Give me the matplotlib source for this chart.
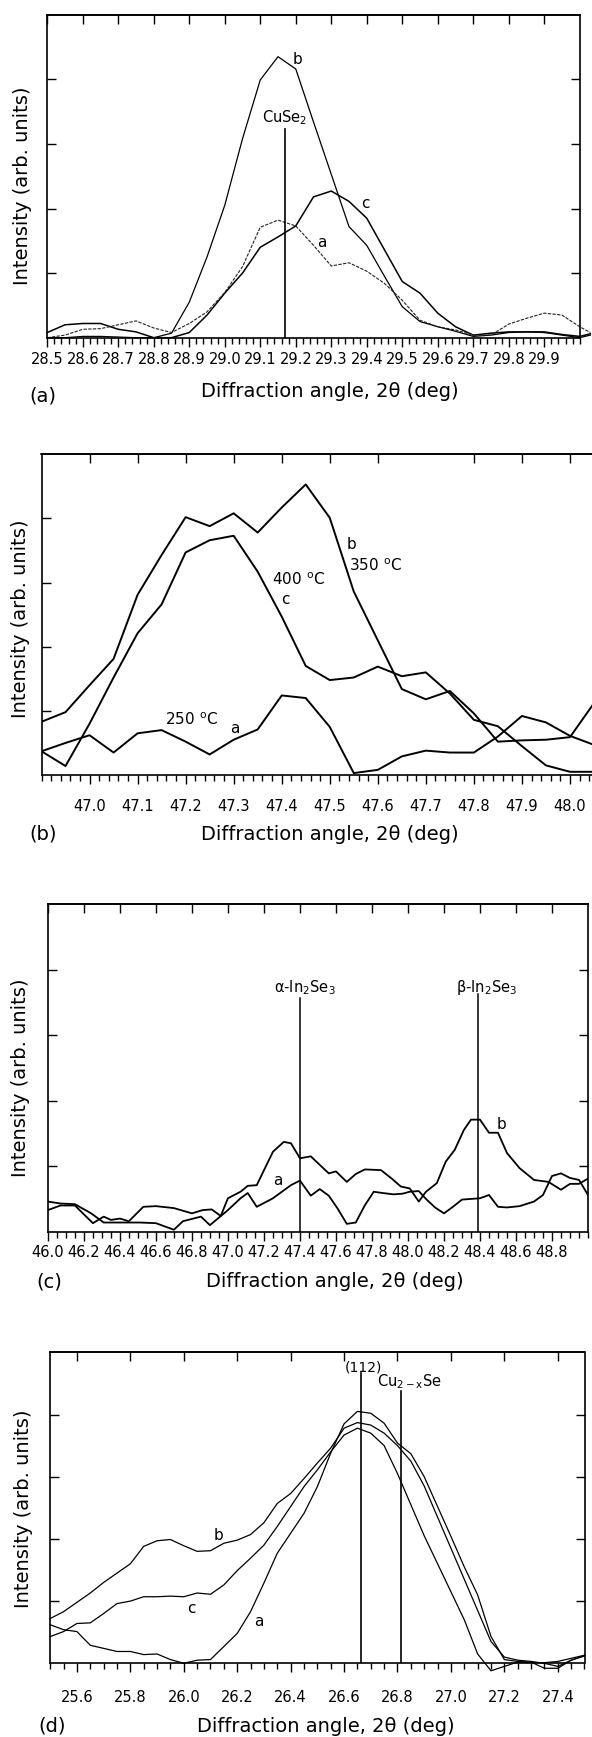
import matplotlib
matplotlib.use("Agg")
import matplotlib.pyplot as plt
from matplotlib.ticker import MultipleLocator, FixedLocator, NullFormatter

plt.rcParams['font.family'] = ['DejaVu Sans']
plt.rcParams['mathtext.fontset'] = 'dejavusans'

# ---------------- Panel (a) data ----------------
PA_X = [28.50, 28.55, 28.60, 28.65, 28.70, 28.75, 28.80, 28.85, 28.90, 28.95,
        29.00, 29.05, 29.10, 29.15, 29.20, 29.25, 29.30, 29.35, 29.40, 29.45,
        29.50, 29.55, 29.60, 29.65, 29.70, 29.75, 29.80, 29.85, 29.90, 29.95,
        30.00, 30.03]
PA_A = [0.00, 0.04, 0.13, 0.14, 0.20, 0.26, 0.15, 0.08, 0.22, 0.40,
        0.70, 1.10, 1.71, 1.82, 1.73, 1.43, 1.11, 1.16, 1.03, 0.84,
        0.58, 0.27, 0.17, 0.12, 0.04, 0.04, 0.21, 0.30, 0.38, 0.35,
        0.17, 0.08]
PA_B = [0.00, 0.00, 0.02, 0.02, 0.01, 0.00, 0.00, 0.07, 0.55, 1.25,
        2.05, 3.08, 3.99, 4.35, 4.16, 3.34, 2.53, 1.72, 1.43, 0.95,
        0.48, 0.25, 0.17, 0.10, 0.02, 0.04, 0.08, 0.09, 0.08, 0.04,
        0.00, 0.04]
PA_C = [0.08, 0.20, 0.22, 0.22, 0.13, 0.09, 0.00, 0.00, 0.08, 0.35,
        0.69, 1.00, 1.40, 1.56, 1.73, 2.18, 2.27, 2.11, 1.85, 1.36,
        0.87, 0.69, 0.38, 0.17, 0.04, 0.07, 0.09, 0.09, 0.09, 0.05,
        0.02, 0.06]
PA_TICKS = [28.5, 28.6, 28.7, 28.8, 28.9, 29.0, 29.1, 29.2, 29.3, 29.4,
            29.5, 29.6, 29.7, 29.8, 29.9]
PA_LABELS = ['28.5', '28.6', '28.7', '28.8', '28.9', '29.0', '29.1', '29.2',
             '29.3', '29.4', '29.5', '29.6', '29.7', '29.8', '29.9']
PA_CUSE2 = 29.17

# ---------------- Panel (b) data ----------------
PB_X = [46.90, 46.95, 47.00, 47.05, 47.10, 47.15, 47.20, 47.25, 47.30, 47.35,
        47.40, 47.45, 47.50, 47.55, 47.60, 47.65, 47.70, 47.75, 47.80, 47.85,
        47.90, 47.95, 48.00, 48.05]
PB_A = [0.37, 0.50, 0.62, 0.35, 0.65, 0.70, 0.52, 0.32, 0.55, 0.71,
        1.24, 1.20, 0.75, 0.03, 0.08, 0.29, 0.38, 0.35, 0.35, 0.60,
        0.92, 0.82, 0.61, 0.47]
PB_B = [0.83, 0.98, 1.40, 1.81, 2.81, 3.43, 4.02, 3.88, 4.08, 3.78,
        4.17, 4.53, 4.01, 2.86, 2.10, 1.34, 1.18, 1.31, 0.96, 0.52,
        0.54, 0.55, 0.59, 1.12]
PB_C = [0.37, 0.14, 0.80, 1.52, 2.21, 2.66, 3.47, 3.66, 3.73, 3.17,
        2.47, 1.70, 1.48, 1.52, 1.69, 1.54, 1.60, 1.27, 0.86, 0.76,
        0.45, 0.15, 0.05, 0.05]
PB_TICKS = [47.0, 47.1, 47.2, 47.3, 47.4, 47.5, 47.6, 47.7, 47.8, 47.9, 48.0]
PB_LABELS = ['47.0', '47.1', '47.2', '47.3', '47.4', '47.5', '47.6', '47.7',
             '47.8', '47.9', '48.0']
PB_TOP_TICKS = [47.0, 47.1, 47.2, 47.3, 47.4, 47.5, 47.6, 47.8, 47.9, 48.0]

# ---------------- Panel (c) data ----------------
PC_AX = [46.00, 46.07, 46.15, 46.24, 46.31, 46.40, 46.51, 46.60, 46.70, 46.75,
         46.85, 46.90, 47.00, 47.07, 47.11, 47.16, 47.25, 47.35, 47.40, 47.46,
         47.51, 47.56, 47.61, 47.66, 47.71, 47.76, 47.81, 47.86, 47.92, 47.97,
         48.01, 48.06, 48.10, 48.15, 48.20, 48.25, 48.30, 48.35, 48.40, 48.45,
         48.50, 48.55, 48.62, 48.70, 48.75, 48.80, 48.85, 48.90, 48.95, 49.00]
PC_A = [0.46, 0.43, 0.42, 0.28, 0.14, 0.14, 0.14, 0.13, 0.03, 0.16,
        0.23, 0.10, 0.33, 0.51, 0.59, 0.38, 0.51, 0.71, 0.78, 0.55,
        0.65, 0.55, 0.35, 0.12, 0.14, 0.40, 0.61, 0.59, 0.57, 0.58,
        0.61, 0.62, 0.50, 0.37, 0.28, 0.38, 0.49, 0.50, 0.51, 0.56,
        0.38, 0.37, 0.39, 0.46, 0.56, 0.85, 0.89, 0.82, 0.79, 0.56]
PC_BX = [46.00, 46.07, 46.15, 46.25, 46.31, 46.35, 46.40, 46.45, 46.53, 46.60,
         46.70, 46.80, 46.86, 46.91, 46.96, 47.00, 47.07, 47.11, 47.16, 47.25,
         47.31, 47.35, 47.40, 47.46, 47.56, 47.60, 47.66, 47.71, 47.76, 47.85,
         47.91, 47.96, 48.01, 48.06, 48.10, 48.16, 48.21, 48.26, 48.31, 48.35,
         48.40, 48.45, 48.50, 48.55, 48.62, 48.70, 48.78, 48.85, 48.90, 48.95,
         49.00]
PC_B = [0.33, 0.40, 0.40, 0.13, 0.23, 0.18, 0.20, 0.16, 0.38, 0.39,
        0.36, 0.28, 0.33, 0.34, 0.24, 0.51, 0.61, 0.70, 0.71, 1.22,
        1.37, 1.35, 1.12, 1.15, 0.89, 0.92, 0.76, 0.88, 0.95, 0.94,
        0.81, 0.69, 0.66, 0.46, 0.61, 0.74, 1.07, 1.25, 1.55, 1.71,
        1.71, 1.51, 1.51, 1.20, 0.97, 0.79, 0.76, 0.64, 0.73, 0.73,
        0.81]
PC_TICKS = [46.0, 46.2, 46.4, 46.6, 46.8, 47.0, 47.2, 47.4, 47.6, 47.8,
            48.0, 48.2, 48.4, 48.6, 48.8]
PC_LABELS = ['46.0', '46.2', '46.4', '46.6', '46.8', '47.0', '47.2', '47.4',
             '47.6', '47.8', '48.0', '48.2', '48.4', '48.6', '48.8']
PC_ALPHA = 47.40
PC_BETA = 48.39

# ---------------- Panel (d) data ----------------
PD_X = [25.50, 25.55, 25.60, 25.65, 25.70, 25.75, 25.80, 25.85, 25.90, 25.95,
        26.00, 26.05, 26.10, 26.15, 26.20, 26.25, 26.30, 26.35, 26.40, 26.45,
        26.50, 26.55, 26.60, 26.65, 26.70, 26.75, 26.80, 26.85, 26.90, 26.95,
        27.00, 27.05, 27.10, 27.15, 27.20, 27.25, 27.30, 27.35, 27.40, 27.45,
        27.50]
PD_A = [0.62, 0.54, 0.51, 0.29, 0.24, 0.19, 0.19, 0.14, 0.15, 0.06,
        0.00, 0.05, 0.06, 0.27, 0.48, 0.83, 1.29, 1.77, 2.09, 2.41,
        2.84, 3.38, 3.85, 4.05, 4.02, 3.86, 3.54, 3.37, 3.00, 2.52,
        2.04, 1.55, 1.10, 0.43, 0.06, 0.03, 0.01, 0.01, 0.03, 0.08,
        0.13]
PD_B = [0.72, 0.83, 0.98, 1.13, 1.30, 1.45, 1.60, 1.88, 1.97, 1.99,
        1.89, 1.80, 1.81, 1.93, 1.98, 2.07, 2.26, 2.57, 2.73, 2.97,
        3.22, 3.46, 3.78, 3.87, 3.83, 3.70, 3.50, 3.25, 2.85, 2.35,
        1.85, 1.35, 0.85, 0.35, 0.10, 0.05, 0.03, 0.00, -0.05, 0.05,
        0.12]
PD_C = [0.43, 0.51, 0.64, 0.65, 0.80, 0.96, 1.00, 1.07, 1.07, 1.08,
        1.07, 1.13, 1.11, 1.26, 1.49, 1.69, 1.90, 2.20, 2.52, 2.84,
        3.11, 3.40, 3.67, 3.78, 3.70, 3.50, 3.05, 2.55, 2.05, 1.60,
        1.15, 0.70, 0.15, -0.12, -0.05, 0.02, 0.02, -0.08, -0.08, 0.05,
        0.12]
PD_TICKS = [25.6, 25.8, 26.0, 26.2, 26.4, 26.6, 26.8, 27.0, 27.2, 27.4]
PD_LABELS = ['25.6', '25.8', '26.0', '26.2', '26.4', '26.6', '26.8', '27.0',
             '27.2', '27.4']
PD_112 = 26.665
PD_CU2XSE = 26.814

Y_TICKS = [1, 2, 3, 4]
XLABEL = 'Diffraction angle, 2θ (deg)'
YLABEL = 'Intensity (arb. units)'

W, H = 592, 1737
fig = plt.figure(figsize=(W / 100, H / 100), dpi=100)


def add_ax(l, t, r, b):
    return fig.add_axes([l / W, 1 - b / H, (r - l) / W, (b - t) / H])


def style(ax, xlim, ticks, labels, top_ticks, minor, pad):
    ax.set_xlim(*xlim)
    ax.set_ylim(0, 5)
    ax.xaxis.set_major_locator(FixedLocator(ticks))
    ax.set_xticklabels(labels)
    ax.xaxis.set_minor_locator(MultipleLocator(minor))
    ax.tick_params(axis='x', which='major', direction='out', length=6.5,
                   width=1.0, pad=pad, labelsize=10.5, top=False, color='black')
    ax.tick_params(axis='x', which='minor', direction='out', length=4.3,
                   width=1.0, top=False)
    ax.yaxis.set_major_locator(FixedLocator(Y_TICKS))
    ax.yaxis.set_major_formatter(NullFormatter())
    ax.tick_params(axis='y', which='major', direction='in', length=6.5,
                   width=1.0, left=True, right=True, labelleft=False)
    for s in ax.spines.values():
        s.set_linewidth(1.2)
    sec = ax.secondary_xaxis('top')
    sec.xaxis.set_major_locator(FixedLocator(top_ticks))
    sec.xaxis.set_major_formatter(NullFormatter())
    sec.tick_params(axis='x', direction='in', length=6.5, width=1.0)
    sec.spines['top'].set_linewidth(1.2)


def ftext(x, y, s, **kw):
    fig.text(x / W, 1 - y / H, s, **kw)


# ---------------- Panel (a) ----------------
axa = add_ax(47.3, 14.7, 579.7, 337.7)
style(axa, (28.5, 30.0), PA_TICKS, PA_LABELS, PA_TICKS, 0.02, 4.0)
axa.plot(PA_X, PA_B, color='black', lw=0.9, clip_on=False)
axa.plot(PA_X, PA_C, color='black', lw=1.1, clip_on=False)
axa.plot(PA_X, PA_A, color='#222222', lw=0.8, ls=(0, (3, 1.2)), clip_on=False)
axa.plot([PA_CUSE2, PA_CUSE2], [0, 3.23], color='black', lw=1.2)
axa.text(PA_CUSE2, 3.40, 'CuSe$_2$', ha='center', va='center', fontsize=10.5)
axa.text(29.206, 4.30, 'b', ha='center', va='center', fontsize=11)
axa.text(29.396, 2.08, 'c', ha='center', va='center', fontsize=11)
axa.text(29.273, 1.47, 'a', ha='center', va='center', fontsize=11)
ftext(22.6, 186, YLABEL, rotation=90, ha='center', va='center', fontsize=14)
ftext(330, 391.5, XLABEL, ha='center', va='center', fontsize=14)
ftext(43, 396, '(a)', ha='center', va='center', fontsize=14)

# ---------------- Panel (b) ----------------
axb = add_ax(41.5, 454.3, 618.0, 775.0)
style(axb, (46.9, 48.1), PB_TICKS, PB_LABELS, PB_TOP_TICKS, 0.02, 10.6)
axb.plot(PB_X, PB_A, color='black', lw=1.4)
axb.plot(PB_X, PB_B, color='black', lw=1.4)
axb.plot(PB_X, PB_C, color='black', lw=1.4)
axb.text(47.545, 3.60, 'b', ha='center', va='center', fontsize=11)
axb.text(47.595, 3.26, '350 $^{\\mathrm{o}}$C', ha='center', va='center', fontsize=11)
axb.text(47.434, 3.05, '400 $^{\\mathrm{o}}$C', ha='center', va='center', fontsize=11)
axb.text(47.408, 2.73, 'c', ha='center', va='center', fontsize=11)
axb.text(47.212, 0.86, '250 $^{\\mathrm{o}}$C', ha='center', va='center', fontsize=11)
axb.text(47.302, 0.73, 'a', ha='center', va='center', fontsize=11)
ftext(20.7, 619, YLABEL, rotation=90, ha='center', va='center', fontsize=14)
ftext(330, 834, XLABEL, ha='center', va='center', fontsize=14)
ftext(43, 834, '(b)', ha='center', va='center', fontsize=14)

# ---------------- Panel (c) ----------------
axc = add_ax(47.9, 904.0, 588.0, 1231.7)
style(axc, (46.0, 49.0), PC_TICKS, PC_LABELS, PC_TICKS, 0.05, 3.1)
axc.plot(PC_AX, PC_A, color='black', lw=1.3)
axc.plot(PC_BX, PC_B, color='black', lw=1.3)
axc.plot([PC_ALPHA, PC_ALPHA], [0, 3.56], color='black', lw=1.1)
axc.plot([PC_BETA, PC_BETA], [0, 3.63], color='black', lw=1.1)
axc.text(47.428, 3.72, 'α-In$_2$Se$_3$', ha='center', va='center', fontsize=10.5)
axc.text(48.438, 3.72, 'β-In$_2$Se$_3$', ha='center', va='center', fontsize=10.5)
axc.text(47.275, 0.78, 'a', ha='center', va='center', fontsize=11)
axc.text(48.522, 1.64, 'b', ha='center', va='center', fontsize=11)
ftext(20.7, 1078, YLABEL, rotation=90, ha='center', va='center', fontsize=14)
ftext(335, 1281.7, XLABEL, ha='center', va='center', fontsize=14)
ftext(49, 1281.7, '(c)', ha='center', va='center', fontsize=14)

# ---------------- Panel (d) ----------------
axd = add_ax(50.2, 1352.3, 584.5, 1663.3)
style(axd, (25.5, 27.5), PD_TICKS, PD_LABELS, PD_TICKS, 0.05, 12.8)
axd.plot(PD_X, PD_A, color='black', lw=0.9, clip_on=False)
axd.plot(PD_X, PD_B, color='black', lw=0.9, clip_on=False)
axd.plot(PD_X, PD_C, color='black', lw=0.9, clip_on=False)
axd.plot([PD_112, PD_112], [0, 4.66], color='black', lw=1.2)
axd.plot([PD_CU2XSE, PD_CU2XSE], [0, 4.37], color='black', lw=1.2)
axd.text(26.673, 4.76, '(112)', ha='center', va='center', fontsize=10)
axd.text(26.845, 4.53, 'Cu$_{\\mathrm{2-x}}$Se', ha='center', va='center', fontsize=10.5)
axd.text(26.13, 2.06, 'b', ha='center', va='center', fontsize=11)
axd.text(26.03, 0.88, 'c', ha='center', va='center', fontsize=11)
axd.text(26.28, 0.67, 'a', ha='center', va='center', fontsize=11)
ftext(23.4, 1509, YLABEL, rotation=90, ha='center', va='center', fontsize=14)
ftext(326, 1726.7, XLABEL, ha='center', va='center', fontsize=14)
ftext(52, 1726, '(d)', ha='center', va='center', fontsize=14)

fig.savefig('out.png', dpi=100)
